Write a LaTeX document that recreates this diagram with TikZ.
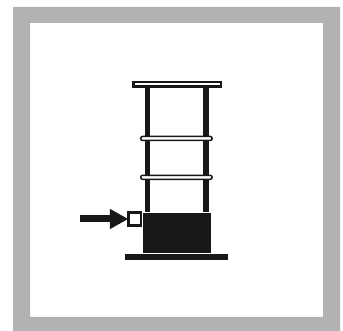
\documentclass[tikz,border=0pt]{standalone}
\usepackage{xcolor}
\usetikzlibrary{positioning,arrows.meta,shapes.misc}
\definecolor{cFrame}{HTML}{B2B2B2}
\definecolor{cInk}{HTML}{1A1718}

\begin{document}
\begin{tikzpicture}[
  x=1pt, y=-1pt,
  frame/.style={draw=none, fill=cFrame},
  b/.style={draw=none, fill=cInk, inner sep=0pt, outer sep=0pt},
  topbar/.style={draw=cInk, fill=white, line width=2.2pt, inner sep=0pt, outer sep=0pt,
                 minimum width=87.6pt, minimum height=4.6pt},
  ring/.style={rounded rectangle, draw=cInk, fill=white, line width=1.5pt,
               inner sep=0pt, outer sep=0pt, minimum width=71.5pt, minimum height=4pt},
  port/.style={draw=cInk, fill=white, line width=2.6pt, inner sep=0pt, outer sep=0pt,
               minimum size=12.6pt},
  pole/.style={draw=cInk, line width=5.3pt},
  feed/.style={-{Triangle[length=18.5pt,width=19pt]}, draw=cInk, line width=7pt}]

% ---- page and grey frame ----
\fill[white] (0,0) rectangle (343,331);
\fill[frame, even odd rule] (13,7) rectangle (340,331) (30,23) rectangle (323,317);

% ---- stand ----
\node[topbar] (bar) at (177.2,84.3) {};
\node[b, minimum width=68pt, minimum height=40pt] (box) at (176.7,233.3) {};
\node[b, minimum width=102.7pt, minimum height=5.7pt, below=1pt of box] (base) {};
\coordinate (poleL) at (147.3,212);
\coordinate (poleR) at (206,212);
\draw[pole] (bar.south -| poleL) -- (poleL);
\draw[pole] (bar.south -| poleR) -- (poleR);
\node[ring] (ringA) at (176.4,138.5) {};
\node[ring] (ringB) at (176.4,177.3) {};

% ---- inlet ----
\node[port] (port) at (134.6,219) {};
\coordinate[left=48pt of port.west] (feedin);
\draw[feed] (feedin) -- (port.west);
\end{tikzpicture}
\end{document}
